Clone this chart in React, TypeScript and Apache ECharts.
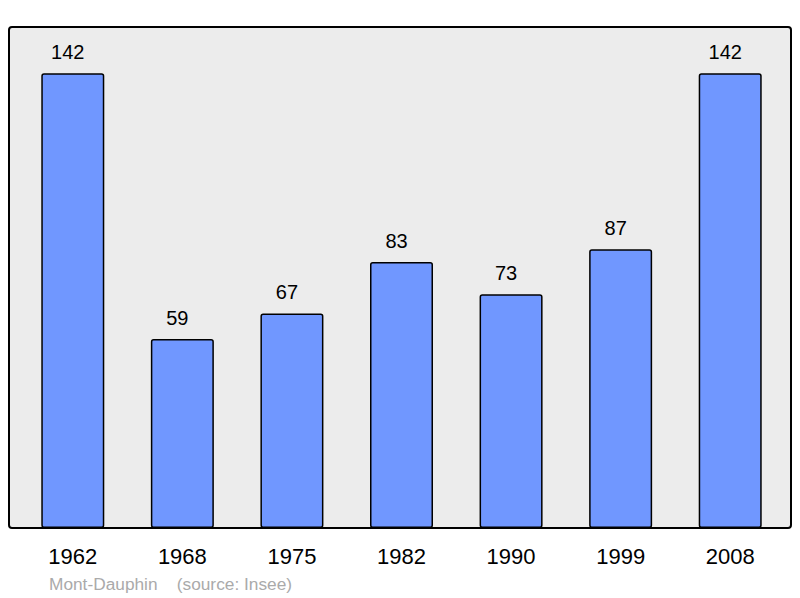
import { useEffect, useRef } from 'react';
import * as echarts from 'echarts';

// ─── Data ─────────────────────────────────────────────────────────────────────

const years = ['1962', '1968', '1975', '1982', '1990', '1999', '2008'];
const population = [142, 59, 67, 83, 73, 87, 142];
const footer = 'Mont-Dauphin    (source: Insee)';

const BAR_COLOR = '#7097ff';
const FONT = '"Liberation Sans", Arial, sans-serif';

function buildOption(): echarts.EChartsOption {
  return {
    animation: false,
    backgroundColor: '#ffffff',
    grid: { left: 18, right: 15, top: 27, bottom: 70 },
    graphic: [
      {
        type: 'rect',
        z: -10,
        shape: { x: 9, y: 27, width: 782, height: 501, r: 3 },
        style: { fill: '#ececec', stroke: '#000', lineWidth: 2 },
      },
      {
        type: 'text',
        x: 49,
        y: 584,
        style: {
          text: footer,
          fill: '#aaaaaa',
          font: `17.3px ${FONT}`,
          verticalAlign: 'middle',
        },
      },
    ],
    xAxis: {
      type: 'category',
      data: years,
      axisLine: { show: false },
      axisTick: { show: false },
      axisLabel: {
        color: '#000',
        fontSize: 22,
        fontFamily: FONT,
        margin: 17,
      },
    },
    yAxis: {
      type: 'value',
      min: 0,
      max: 156.4,
      show: false,
      splitLine: { show: false },
    },
    series: [
      {
        type: 'bar',
        data: population,
        barWidth: 63,
        itemStyle: {
          color: BAR_COLOR,
          borderColor: '#000',
          borderWidth: 1.5,
          borderRadius: 2,
        },
        label: {
          show: true,
          position: 'top',
          distance: 11,
          offset: [-5, 0],
          color: '#000',
          fontSize: 20,
          fontFamily: FONT,
        },
      },
    ],
  };
}

export default function App() {
  const ref = useRef<HTMLDivElement>(null);

  useEffect(() => {
    if (!ref.current) return;
    const chart = echarts.init(ref.current, null, { renderer: 'svg' });
    chart.setOption(buildOption());
    return () => chart.dispose();
  }, []);

  return (
    <div
      ref={ref}
      style={{ position: 'absolute', left: 0, top: 0, width: 800, height: 598 }}
    />
  );
}
